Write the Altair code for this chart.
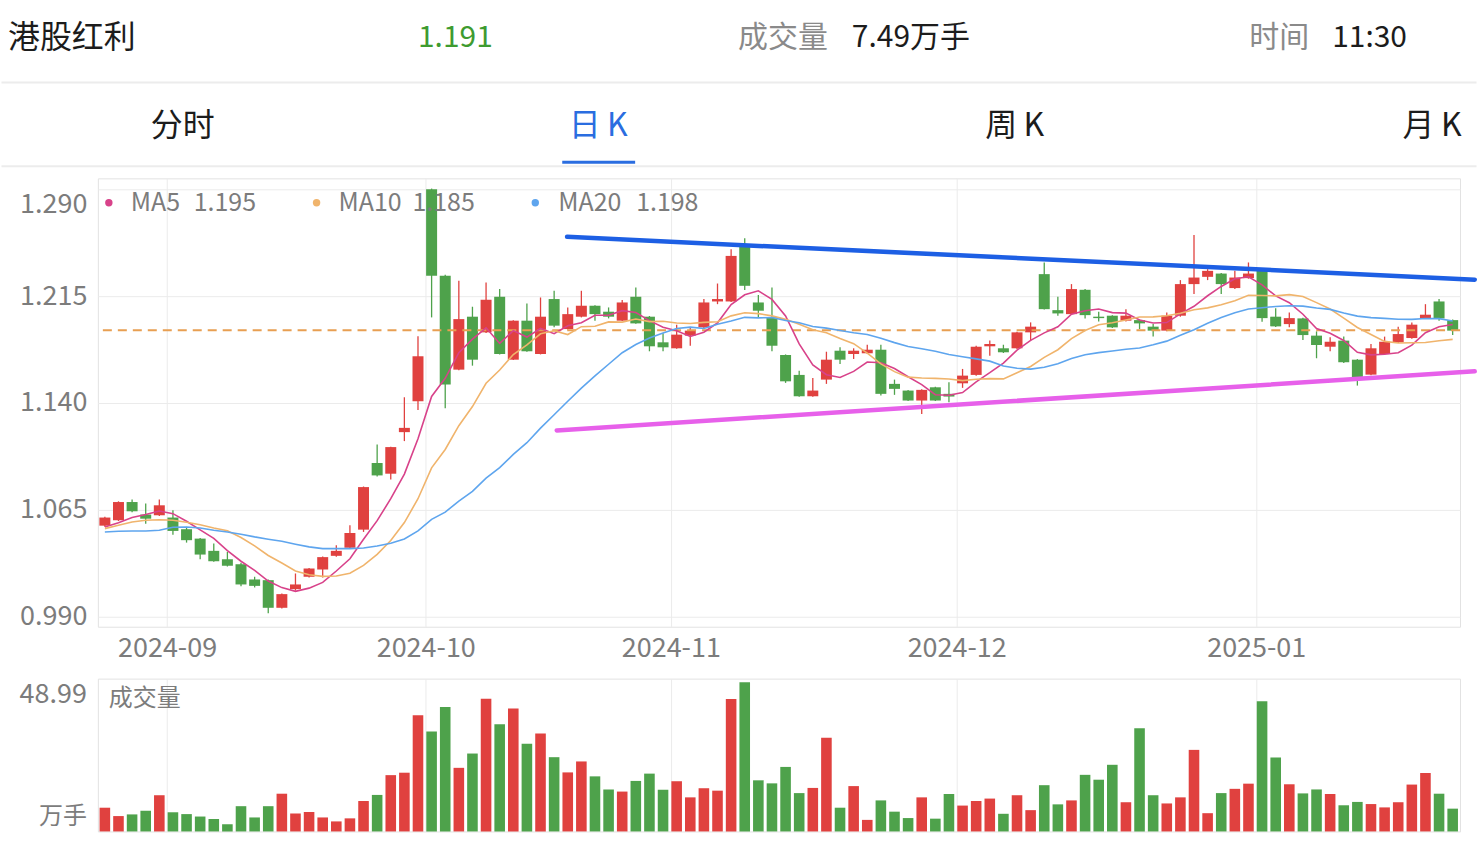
import altair as alt
import pandas as pd

# ---------------- data ----------------
opens = [1.0537, 1.0575, 1.0703, 1.0615, 1.0610, 1.0594, 1.0512, 1.0446, 1.0360, 1.0301,
         1.0266, 1.0159, 1.0154, 0.9960, 1.0091, 1.0178, 1.0229, 1.0325, 1.0381, 1.0509,
         1.0977, 1.0902, 1.1194, 1.1411, 1.2900, 1.2292, 1.1633, 1.2005, 1.1895, 1.2145,
         1.1703, 1.1977, 1.1743, 1.2129, 1.1918, 1.2005, 1.2082, 1.2040, 1.1977, 1.2145,
         1.2005, 1.1825, 1.1783, 1.1872, 1.1930, 1.2112, 1.2112, 1.2509, 1.2105, 1.2000,
         1.1736, 1.1596, 1.1446, 1.1563, 1.1766, 1.1743, 1.1748, 1.1773, 1.1533, 1.1486,
         1.1416, 1.1509, 1.1463, 1.1537, 1.1596, 1.1797, 1.1783, 1.1783, 1.1895, 1.2304,
         1.2051, 1.2023, 1.2194, 1.2005, 1.2012, 1.1977, 1.1981, 1.1935, 1.1907, 1.2012,
         1.2234, 1.2285, 1.2308, 1.2206, 1.2276, 1.2332, 1.2005, 1.1953, 1.1993, 1.1872,
         1.1794, 1.1837, 1.1703, 1.1598, 1.1743, 1.1825, 1.1855, 1.1993, 1.2112, 1.1981]
highs = [1.0600, 1.0708, 1.0720, 1.0692, 1.0720, 1.0645, 1.0528, 1.0450, 1.0411, 1.0353,
         1.0276, 1.0178, 1.0158, 1.0060, 1.0201, 1.0240, 1.0320, 1.0400, 1.0540, 1.0812,
         1.1108, 1.1092, 1.1439, 1.1867, 1.2905, 1.2300, 1.2257, 1.2075, 1.2245, 1.2199,
         1.1980, 1.2098, 1.2140, 1.2187, 1.2070, 1.2187, 1.2085, 1.2070, 1.2122, 1.2210,
         1.2010, 1.1888, 1.1949, 1.1930, 1.2129, 1.2238, 1.2479, 1.2556, 1.2157, 1.2210,
         1.1740, 1.1626, 1.1575, 1.1759, 1.1790, 1.1783, 1.1808, 1.1808, 1.1563, 1.1490,
         1.1495, 1.1513, 1.1544, 1.1638, 1.1800, 1.1837, 1.1808, 1.1900, 1.1965, 1.2386,
         1.2145, 1.2234, 1.2200, 1.2040, 1.2016, 1.2058, 1.1985, 1.1953, 1.2035, 1.2262,
         1.2579, 1.2339, 1.2312, 1.2327, 1.2386, 1.2346, 1.2065, 1.2035, 1.1997, 1.1902,
         1.1860, 1.1865, 1.1707, 1.1813, 1.1865, 1.1935, 1.1965, 1.2093, 1.2129, 1.1985]
lows = [1.0530, 1.0570, 1.0631, 1.0551, 1.0605, 1.0474, 1.0418, 1.0301, 1.0283, 1.0250,
        1.0112, 1.0103, 0.9921, 0.9955, 1.0080, 1.0173, 1.0173, 1.0318, 1.0376, 1.0493,
        1.0883, 1.0862, 1.1131, 1.1350, 1.2000, 1.1362, 1.1628, 1.1661, 1.1890, 1.1740,
        1.1700, 1.1758, 1.1740, 1.1930, 1.1915, 1.2000, 1.1977, 1.1993, 1.1975, 1.1955,
        1.1762, 1.1762, 1.1780, 1.1801, 1.1925, 1.2093, 1.2108, 1.2192, 1.2000, 1.1762,
        1.1540, 1.1443, 1.1443, 1.1533, 1.1673, 1.1708, 1.1745, 1.1451, 1.1456, 1.1412,
        1.1322, 1.1412, 1.1404, 1.1505, 1.1590, 1.1731, 1.1750, 1.1778, 1.1837, 1.2055,
        1.2012, 1.2020, 1.1993, 1.1972, 1.1925, 1.1972, 1.1918, 1.1865, 1.1903, 1.2005,
        1.2164, 1.2262, 1.2164, 1.2200, 1.2272, 1.1970, 1.1933, 1.1930, 1.1841, 1.1713,
        1.1762, 1.1680, 1.1521, 1.1593, 1.1740, 1.1820, 1.1850, 1.1990, 1.1977, 1.1876]
closes = [1.0594, 1.0703, 1.0638, 1.0586, 1.0680, 1.0500, 1.0435, 1.0334, 1.0287, 1.0255,
          1.0124, 1.0114, 0.9960, 1.0056, 1.0124, 1.0236, 1.0316, 1.0360, 1.0486, 1.0808,
          1.0890, 1.1089, 1.1224, 1.1727, 1.2292, 1.1528, 1.1988, 1.1703, 1.2124, 1.1743,
          1.1977, 1.1762, 1.2005, 1.1942, 1.2023, 1.2082, 1.2023, 1.2005, 1.2105, 1.1958,
          1.1797, 1.1790, 1.1879, 1.1907, 1.2105, 1.2129, 1.2432, 1.2222, 1.2047, 1.1801,
          1.1551, 1.1446, 1.1486, 1.1703, 1.1703, 1.1766, 1.1773, 1.1463, 1.1498, 1.1416,
          1.1491, 1.1416, 1.1444, 1.1591, 1.1794, 1.1813, 1.1755, 1.1895, 1.1935, 1.2058,
          1.2028, 1.2199, 1.2016, 1.1995, 1.1930, 1.2012, 1.1958, 1.1907, 1.2012, 1.2234,
          1.2280, 1.2327, 1.2234, 1.2280, 1.2308, 1.1995, 1.1937, 1.1995, 1.1876, 1.1806,
          1.1829, 1.1685, 1.1580, 1.1783, 1.1829, 1.1883, 1.1949, 1.2019, 1.1993, 1.1907]
volumes = [7.8, 5.05, 5.6, 6.8, 11.9, 6.3, 5.7, 4.9, 4.1, 2.4,
           8.3, 4.6, 8.3, 12.4, 5.9, 6.4, 4.6, 3.3, 4.3, 10.0,
           12.0, 18.5, 19.3, 38.2, 32.8, 40.9, 20.9, 25.6, 43.6, 35.2,
           40.4, 28.8, 32.2, 24.4, 19.4, 23.0, 18.1, 13.8, 13.1, 16.6,
           19.0, 13.7, 16.5, 11.2, 14.2, 13.4, 43.5, 48.99, 16.8, 15.8,
           21.2, 12.6, 14.3, 30.8, 7.8, 14.9, 3.8, 10.2, 6.5, 4.4,
           11.2, 4.2, 12.3, 8.5, 10.0, 10.8, 5.8, 11.9, 7.0, 15.2,
           8.9, 10.2, 18.6, 17.0, 21.9, 9.6, 33.9, 11.9, 9.2, 11.2,
           26.8, 6.0, 12.6, 14.0, 15.7, 42.8, 24.3, 15.5, 12.5, 13.8,
           12.3, 8.6, 9.7, 9.0, 7.9, 9.6, 15.4, 19.2, 12.4, 7.49]
# moving-average values at the left edge (window starts before the visible data)
ma5_head = [1.0528, 1.0558, 1.0594, 1.0615]
ma10_head = [1.0516, 1.0540, 1.0563, 1.0575, 1.0579, 1.0575, 1.0561, 1.0544, 1.0521]
ma20_head = [1.0493, 1.0498, 1.0500, 1.0500, 1.0505, 1.0526, 1.0528, 1.0521, 1.0505, 1.0493,
             1.0477, 1.0458, 1.0442, 1.0428, 1.0407, 1.0388, 1.0376, 1.0376, 1.0376]
ma_names = ["MA5", "MA10", "MA20"]
ma_windows = [5, 10, 20]
ma_legend_values = ["1.195", "1.185", "1.198"]
price_ticks = [0.990, 1.065, 1.140, 1.215, 1.290]
month_labels = ["2024-09", "2024-10", "2024-11", "2024-12", "2025-01"]
month_start_idx = [5, 24, 42, 63, 85]
last_price = [1.191]
trend_upper = {"x": [33.95], "y": [1.2566], "x2": [100.62], "y2": [1.2265]}
trend_lower = {"x": [33.19], "y": [1.1206], "x2": [100.62], "y2": [1.1621]}
header_name = "港股红利"
header_price = "1.191"
header_vol_label = "成交量"
header_vol_value = "7.49万手"
header_time_label = "时间"
header_time_value = "11:30"
tabs = ["分时", "日\u2009K", "周\u2009K", "月\u2009K"]
vol_unit = "万手"
vol_title = "成交量"

# ---------------- styles / layout ----------------
FONT = "Noto Sans CJK SC, Noto Sans, sans-serif"
RED = "#e0413f"
GREEN = "#4ea24b"
MA_COLORS = ["#d8428a", "#f0b46c", "#5ea5ee"]
GRID = "#ebebeb"
LABEL = "#7c7c7c"
PAGE_W, PAGE_H = 1478, 846
OX, OY = 97, 177          # price plot origin on the page
VOY = 678                 # volume plot top on the page
W, PH, VH = 1364, 449, 153
SPACING = VOY - (OY + PH)

# ---------------- tables ----------------
n = len(closes)
df = pd.DataFrame({"i": list(range(n)), "open": opens, "high": highs, "low": lows,
                   "close": closes, "vol": volumes})
df["dir"] = ["up" if c >= o else "down" for o, c in zip(opens, closes)]


def moving_avg(vals, w, head):
    out = []
    for k in range(len(vals)):
        out.append(head[k] if k < w - 1 else sum(vals[k - w + 1:k + 1]) / w)
    return out


ma_tables = []
for name, w, head in zip(ma_names, ma_windows, [ma5_head, ma10_head, ma20_head]):
    ma_tables.append(pd.DataFrame({"i": list(range(n)), "v": moving_avg(closes, w, head)}))

xscale = alt.Scale(domain=[-0.514, 99.54], nice=False, zero=False, padding=0)
yscale = alt.Scale(domain=[0.9827, 1.2977], nice=False, zero=False, padding=0)
color_scale = alt.Scale(domain=["up", "down"], range=[RED, GREEN])
grid_vals = [m - 0.43 for m in month_start_idx]

lab_expr = f"'{month_labels[-1]}'"
for v, lab in reversed(list(zip(grid_vals[:-1], month_labels[:-1]))):
    lab_expr = f"datum.value < {v + 1:.2f} ? '{lab}' : ({lab_expr})"

xaxis = alt.Axis(values=grid_vals, labelExpr=lab_expr, grid=True, gridColor=GRID,
                 ticks=False, domain=False, labelFontSize=27, labelColor=LABEL,
                 labelPadding=9, labelFont=FONT, title=None, labelAngle=0,
                 labelOverlap=False, labelFlush=False, labelBound=False)
yaxis = alt.Axis(values=price_ticks, format=".3f", grid=True, gridColor=GRID, ticks=False,
                 domain=False, labelFontSize=27, labelColor=LABEL, labelPadding=11,
                 labelFont=FONT, title=None,
                 labelOffset={"condition": {"test": "datum.value > 1.28", "value": 15}, "value": 0})


def text_layer(t, x, y, size, color, align="left", oy=OY):
    return alt.Chart(pd.DataFrame({"t": [t]})).mark_text(
        align=align, baseline="middle", fontSize=size, color=color, font=FONT
    ).encode(text="t:N", x=alt.value(x - OX), y=alt.value(y - oy))


def hline(y, x1, x2, color, width, oy=OY):
    return alt.Chart(pd.DataFrame({"a": [0]})).mark_rule(color=color, strokeWidth=width).encode(
        x=alt.value(x1 - OX), x2=alt.value(x2 - OX), y=alt.value(y - oy))


base = alt.Chart(df).encode(
    x=alt.X("i:Q", scale=xscale, axis=xaxis),
    color=alt.Color("dir:N", scale=color_scale, legend=None),
)
wicks = base.mark_rule(strokeWidth=1.3).encode(
    y=alt.Y("low:Q", scale=yscale, axis=yaxis), y2="high:Q")
bodies = base.mark_bar(size=11).encode(y=alt.Y("open:Q", scale=yscale), y2="close:Q")

dash = alt.Chart(pd.DataFrame({"p": last_price})).mark_rule(
    strokeDash=[9, 6], strokeWidth=2, color="#e89f52").encode(y=alt.Y("p:Q", scale=yscale))

ma_layers = []
for tbl, col in zip(ma_tables, MA_COLORS):
    ma_layers.append(alt.Chart(tbl).mark_line(strokeWidth=1.6, color=col).encode(
        x=alt.X("i:Q", scale=xscale), y=alt.Y("v:Q", scale=yscale)))

trend_layers = []
for tr, col in [(trend_upper, "#1d5fe4"), (trend_lower, "#e760ea")]:
    trend_layers.append(alt.Chart(pd.DataFrame(tr)).mark_rule(
        strokeWidth=4.5, color=col, strokeCap="round", clip=False).encode(
        x=alt.X("x:Q", scale=xscale), x2="x2:Q", y=alt.Y("y:Q", scale=yscale), y2="y2:Q"))

# legend row inside the price panel
legend_layers = []
dot_x = [108, 316, 535]
name_x = [130, 338, 558]
val_x = [193, 412, 636]
for k in range(3):
    legend_layers.append(alt.Chart(pd.DataFrame({"a": [0]})).mark_circle(
        size=55, color=MA_COLORS[k], opacity=1).encode(
        x=alt.value(dot_x[k] - OX), y=alt.value(201.5 - OY)))
    legend_layers.append(text_layer(ma_names[k], name_x[k], 202, 25, LABEL))
    legend_layers.append(text_layer(ma_legend_values[k], val_x[k], 202, 25, LABEL))

# page header (plus a white hairline at the page top to anchor the layout bounds)
header = [
    hline(0.5, 0.5, PAGE_W - 0.5, "#ffffff", 1),
    text_layer(header_name, 7, 36, 32, "#1c1c1c"),
    text_layer(header_price, 455, 36, 30, "#3e9b30", align="center"),
    text_layer(header_vol_label, 738, 36, 30, "#8a8a8a"),
    text_layer(header_vol_value, 852, 36, 30, "#1c1c1c"),
    text_layer(header_time_label, 1250, 36, 30, "#8a8a8a"),
    text_layer(header_time_value, 1333, 36, 30, "#1c1c1c"),
    hline(81, 0.5, PAGE_W - 0.5, "#ececec", 2),
    hline(165, 0.5, PAGE_W - 0.5, "#ececec", 2),
    hline(161, 562, 635, "#2a6de0", 3),
]
tab_x = [182, 598, 1015, 1433]
for k, t in enumerate(tabs):
    header.append(text_layer(t, tab_x[k], 125, 32, "#2a6de0" if k == 1 else "#1c1c1c",
                             align="center"))

price = alt.layer(wicks, bodies, dash, *ma_layers, *trend_layers, *legend_layers,
                  *header).properties(width=W, height=PH)

# ---------------- volume panel ----------------
vbars = alt.Chart(df).mark_bar(size=10.6).encode(
    x=alt.X("i:Q", scale=xscale,
            axis=alt.Axis(values=grid_vals, labels=False, ticks=False, domain=False,
                          grid=True, gridColor=GRID, title=None)),
    y=alt.Y("vol:Q", scale=alt.Scale(domain=[0, 50.2], nice=False, padding=0), axis=None),
    color=alt.Color("dir:N", scale=color_scale, legend=None),
)
vtexts = [
    text_layer(f"{max(volumes):.2f}", 86, 694, 27, LABEL, align="right", oy=VOY),
    text_layer(vol_unit, 86, 817, 24, LABEL, align="right", oy=VOY),
    text_layer(vol_title, 108, 698, 24, LABEL, oy=VOY),
    hline(PAGE_H - 0.5, 0.5, PAGE_W - 0.5, "#ffffff", 1, oy=VOY),
]
volume = alt.layer(vbars, *vtexts).properties(width=W, height=VH)

chart = alt.vconcat(price, volume, spacing=SPACING, bounds="flush").properties(
    padding=0,
).configure(font=FONT, background="white").configure_view(stroke="#e2e2e2", strokeWidth=1)

chart.save("out.html", embed_options={"renderer": "svg", "actions": False})
